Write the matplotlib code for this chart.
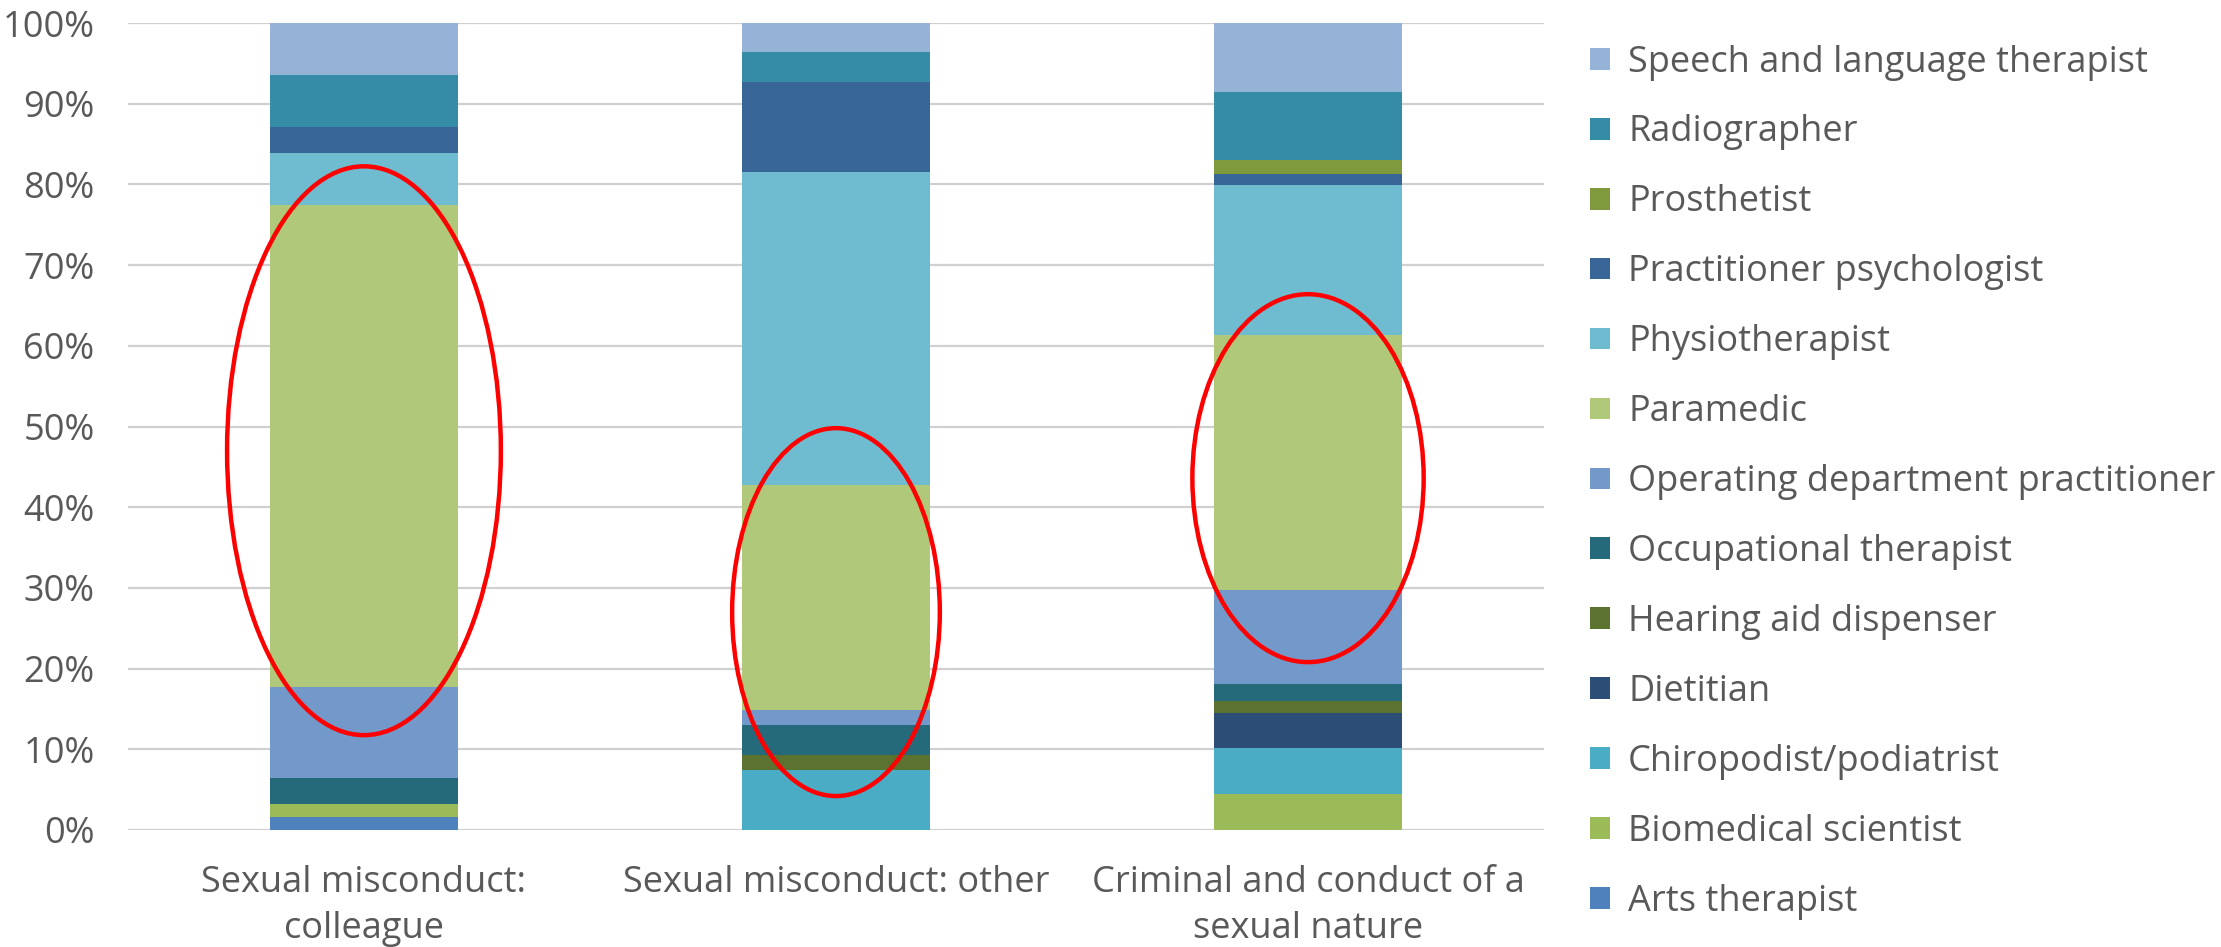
import numpy as np
import matplotlib
matplotlib.use("Agg")
import matplotlib.pyplot as plt
from matplotlib.patches import Ellipse, Patch

plt.rcParams["font.family"] = ["Open Sans", "DejaVu Sans"]

categories = ["Sexual misconduct:\ncolleague", "Sexual misconduct: other",
              "Criminal and conduct of a\nsexual nature"]

# professions, bottom to top (share of each category, %)
professions = ["Arts therapist", "Biomedical scientist", "Chiropodist/podiatrist", "Dietitian",
               "Hearing aid dispenser", "Occupational therapist",
               "Operating department practitioner", "Paramedic", "Physiotherapist",
               "Practitioner psychologist", "Prosthetist", "Radiographer",
               "Speech and language therapist"]

arts = [1.6, 0.0, 0.0]
biomedical = [1.6, 0.0, 4.5]
chiropodist = [0.0, 7.4, 5.6]
dietitian = [0.0, 0.0, 4.4]
hearing_aid = [0.0, 1.9, 1.5]
occupational = [3.2, 3.7, 2.1]
operating_dept = [11.3, 1.9, 11.7]
paramedic = [59.7, 27.8, 31.5]
physio = [6.5, 38.9, 18.6]
psychologist = [3.2, 11.1, 1.4]
prosthetist = [0.0, 0.0, 1.7]
radiographer = [6.5, 3.7, 8.5]
speech = [6.5, 3.7, 8.5]

series = [arts, biomedical, chiropodist, dietitian, hearing_aid, occupational, operating_dept,
          paramedic, physio, psychologist, prosthetist, radiographer, speech]

colors = ["#4F81BD", "#9BBB59", "#4BACC6", "#2C4D75", "#5B7231", "#256A7A", "#7299C9",
          "#AFC87A", "#6FBCD0", "#386699", "#7F9A3D", "#358CA6", "#95B3D7"]

# red highlight rings: (category index, centre %, width in categories, height %)
rings = [(0, 47.0, 0.58, 70.5), (1, 27.0, 0.44, 45.6), (2, 43.6, 0.49, 45.6)]

FS = 26
fig = plt.figure(figsize=(22.21, 9.47), dpi=100)
ax = fig.add_axes([0.0576, 0.1236, 0.6376, 0.852])

x = np.arange(len(categories))
bottom = np.zeros(len(categories))
handles = []
for name, vals, col in zip(professions, series, colors):
    v = np.array(vals, dtype=float)
    ax.bar(x, v, 0.4, bottom=bottom, color=col, zorder=2, linewidth=0)
    bottom += v
    handles.append(Patch(facecolor=col, edgecolor="none", label=name))

for i, cy, w, h in rings:
    ax.add_patch(Ellipse((x[i], cy), w, h, fill=False, edgecolor="#FF0000", lw=3.2, zorder=5))

ax.set_xlim(-0.5, len(categories) - 0.5)
ax.set_ylim(0, 100)
ax.set_yticks(np.arange(0, 101, 10))
ax.set_yticklabels([f"{t}%" for t in range(0, 101, 10)])
ax.yaxis.grid(True, color="#D0D0D0", lw=1.6, zorder=0)
ax.set_axisbelow(True)
for s in ax.spines.values():
    s.set_visible(False)
ax.set_xticks(x)
ax.set_xticklabels(categories, linespacing=1.38)
ax.tick_params(axis="y", length=0, pad=24, labelsize=FS, labelcolor="#595959")
ax.tick_params(axis="x", length=0, pad=25, labelsize=FS, labelcolor="#595959")

leg = fig.legend(handles=handles[::-1], loc="upper left", bbox_to_anchor=(0.716, 0.953),
                 frameon=False, fontsize=FS, labelcolor="#595959", handlelength=0.55,
                 handleheight=0.55, handletextpad=0.5, labelspacing=0.94, borderaxespad=0,
                 borderpad=0)

fig.savefig("out.png", dpi=100)
